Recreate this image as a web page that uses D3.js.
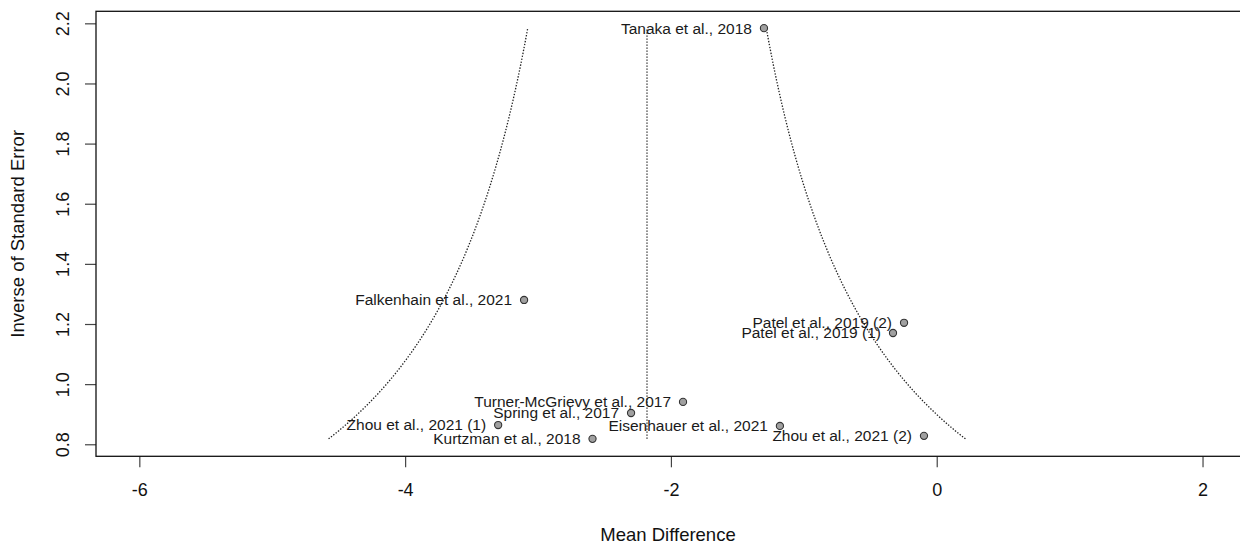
<!DOCTYPE html>
<html>
<head>
<meta charset="utf-8">
<script src="https://cdn.jsdelivr.net/npm/d3@7"></script>
<style>
  body { margin: 0; background: #fff; }
  svg { display: block; }
</style>
</head>
<body>
<div id="my_dataviz"></div>
<script>
// study labels, effect sizes (mean difference) and 1/SE
var studies = ["Tanaka et al., 2018", "Falkenhain et al., 2021", "Patel et al., 2019 (2)",
  "Patel et al., 2019 (1)", "Turner-McGrievy et al., 2017", "Spring et al., 2017",
  "Zhou et al., 2021 (1)", "Kurtzman et al., 2018", "Eisenhauer et al., 2021", "Zhou et al., 2021 (2)"];
var meanDiff = [-1.30, -3.105, -0.246, -0.329, -1.909, -2.30, -3.30, -2.59, -1.18, -0.096];
var seInv = [2.184, 1.280, 1.204, 1.170, 0.941, 0.904, 0.864, 0.818, 0.861, 0.828];

var xTicks = [-6, -4, -2, 0, 2];
var yTicks = [0.8, 1.0, 1.2, 1.4, 1.6, 1.8, 2.0, 2.2];

// pooled estimate and 95% pseudo confidence limits
var pooled = -2.18;
var crit = 1.96;

function drawFunnel() {
	var margin = {top: 11.3, right: -2, bottom: 92.7, left: 96},
	W = 1240, H = 549,
	width = W - margin.left - margin.right,
	height = H - margin.top - margin.bottom;

	var svg = d3.select("#my_dataviz")
		.append("svg")
		.attr("width", W)
		.attr("height", H)
		.style("font-family", "Arial, 'Liberation Sans', Helvetica, sans-serif");

	svg.append("rect").attr("width", W).attr("height", H).attr("fill", "#fff");

	var g = svg.append("g")
		.attr("transform", "translate(" + margin.left + "," + margin.top + ")");

	const x = d3.scaleLinear().domain([-6.326, 2.297]).range([0, width]);
	const y = d3.scaleLinear().domain([0.76, 2.24]).range([height, 0]);

	// X axis (plain hyphen minus like R)
	var xa = g.append("g")
		.attr("transform", "translate(0," + height + ")")
		.call(d3.axisBottom(x).tickValues(xTicks).tickFormat(d => String(d)).tickSize(11).tickSizeOuter(0));
	xa.select(".domain").remove();
	xa.selectAll("line").attr("stroke", "#444").attr("stroke-width", 1.2);
	xa.selectAll("text")
		.attr("y", 33.5).attr("dy", "0.35em")
		.attr("fill", "#111").style("font-size", "18px");

	// Y axis
	var ya = g.append("g")
		.call(d3.axisLeft(y).tickValues(yTicks).tickFormat(d => d.toFixed(1)).tickSize(11).tickSizeOuter(0));
	ya.select(".domain").remove();
	ya.selectAll("line").attr("stroke", "#444").attr("stroke-width", 1.2);
	ya.selectAll("text")
		.attr("x", 0).attr("dy", "0.35em")
		.attr("text-anchor", "middle")
		.attr("transform", "translate(-33.3,0) rotate(-90)")
		.attr("fill", "#111").style("font-size", "18px");

	// frame
	g.append("rect")
		.attr("width", width).attr("height", height)
		.attr("fill", "none").attr("stroke", "#111").attr("stroke-width", 1.3);

	// funnel lines
	var yLo = d3.min(seInv), yHi = d3.max(seInv);
	var ys = d3.range(0, 101).map(i => yLo + (yHi - yLo) * i / 100);
	var line = d3.line().x(d => x(d[0])).y(d => y(d[1]));
	var dotted = {stroke: "#222", width: 1.3, dash: "1.4,1.6"};

	[-1, 1].forEach(function (s) {
		g.append("path")
			.datum(ys.map(v => [pooled + s * crit / v, v]))
			.attr("d", line)
			.attr("fill", "none")
			.attr("stroke", dotted.stroke)
			.attr("stroke-width", dotted.width)
			.attr("stroke-dasharray", dotted.dash);
	});

	g.append("line")
		.attr("x1", x(pooled)).attr("x2", x(pooled))
		.attr("y1", y(yLo)).attr("y2", y(yHi))
		.attr("stroke", dotted.stroke)
		.attr("stroke-width", dotted.width)
		.attr("stroke-dasharray", dotted.dash);

	var data = studies.map((s, i) => ({name: s, md: meanDiff[i], si: seInv[i]}));

	// points
	g.selectAll("circle.pt")
		.data(data)
		.join("circle")
		.attr("class", "pt")
		.attr("cx", d => x(d.md))
		.attr("cy", d => y(d.si))
		.attr("r", 3.6)
		.attr("fill", "#a0a0a0")
		.attr("stroke", "#333")
		.attr("stroke-width", 1.1);

	// labels (they overlap in the original too)
	g.selectAll("text.lab")
		.data(data)
		.join("text")
		.attr("class", "lab")
		.attr("x", d => x(d.md) - 12)
		.attr("y", d => y(d.si))
		.attr("dy", "0.35em")
		.attr("text-anchor", "end")
		.attr("fill", "#1a1a1a")
		.style("font-size", "15.5px")
		.text(d => d.name);

	// axis titles
	svg.append("text")
		.attr("x", margin.left + (1240 - margin.left) / 2)
		.attr("y", margin.top + height + 78.5)
		.attr("dy", "0.35em")
		.attr("text-anchor", "middle")
		.attr("fill", "#111")
		.style("font-size", "18.5px")
		.text("Mean Difference");

	svg.append("text")
		.attr("transform", "translate(17.5," + (margin.top + height / 2) + ") rotate(-90)")
		.attr("dy", "0.35em")
		.attr("text-anchor", "middle")
		.attr("fill", "#111")
		.style("font-size", "18.5px")
		.text("Inverse of Standard Error");
}

drawFunnel();
</script>
</body>
</html>
